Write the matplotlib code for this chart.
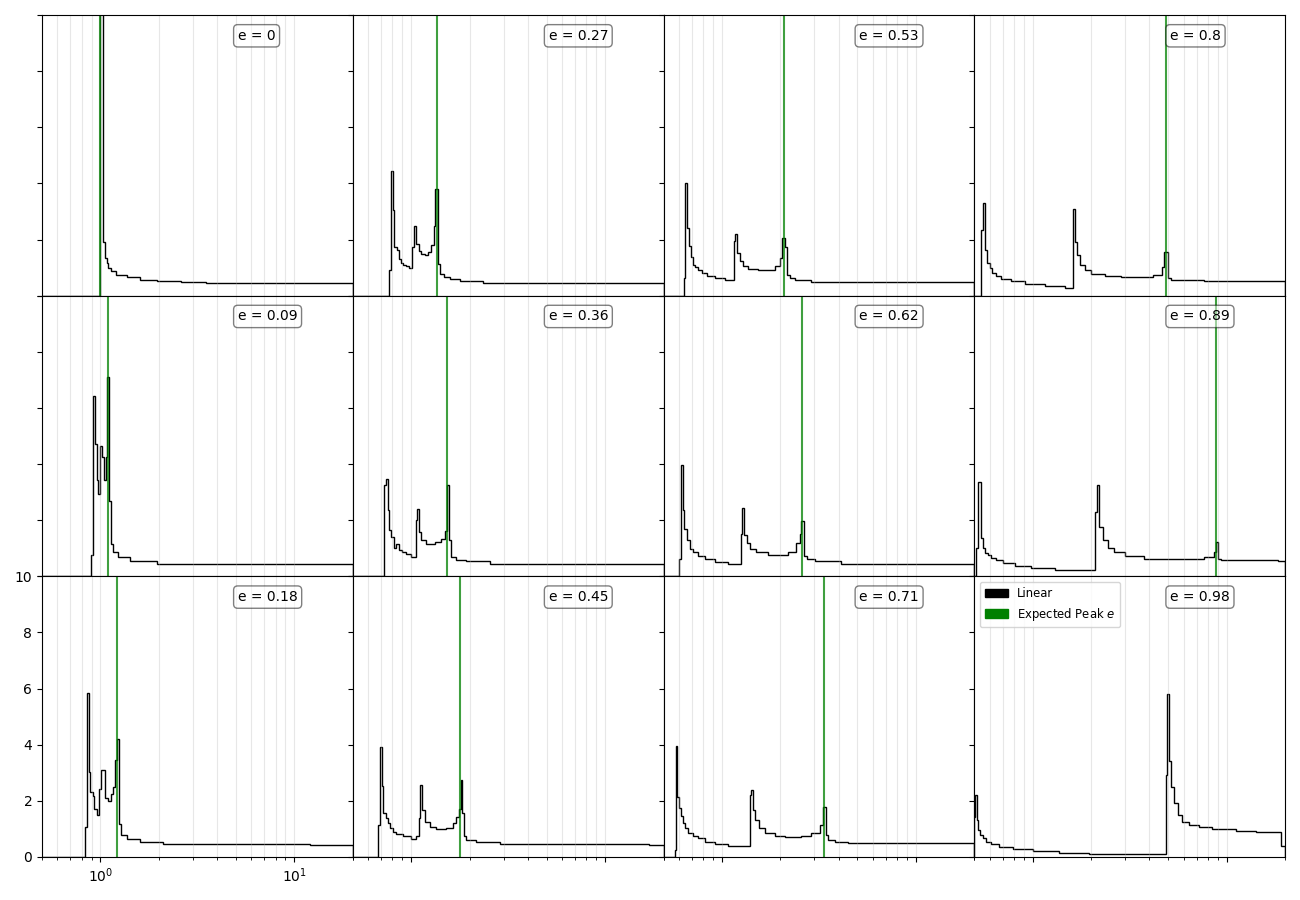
"""Histogramy (schodkowe) dla 12 wartości e, siatka 3x4 ze wspólnymi osiami."""

import matplotlib
matplotlib.use("Agg")
import matplotlib.pyplot as plt
from matplotlib.patches import Patch

# etykiety paneli (kolejność kolumnami)
e_labels = ["0", "0.09", "0.18", "0.27", "0.36", "0.45",
            "0.53", "0.62", "0.71", "0.8", "0.89", "0.98"]
# położenie zielonej linii (oczekiwany pik)
peak_x = [1.0, 1.094, 1.213, 1.354, 1.537, 1.79,
          2.10, 2.60, 3.36, 4.87, 8.83, 50.0]

# krawędzie przedziałów i wysokości
edges_00 = [0.5, 1.0, 1.03, 1.06, 1.08, 1.10, 1.14, 1.21, 1.37, 1.60, 1.95, 2.6, 3.5, 20]
h_00 = [0, 40, 1.93, 1.34, 1.17, 0.98, 0.87, 0.75, 0.65, 0.57, 0.51, 0.48, 0.45]

edges_09 = [0.5, 0.894, 0.912, 0.934, 0.956, 0.975, 1.0, 1.019, 1.043, 1.064, 1.086,
            1.107, 1.129, 1.166, 1.237, 1.42, 1.95, 20]
h_09 = [0, 0.75, 6.44, 4.72, 3.42, 2.95, 4.66, 4.25, 3.42, 4.25, 7.12,
        2.70, 1.16, 0.87, 0.69, 0.55, 0.45]

edges_18 = [0.5, 0.833, 0.850, 0.870, 0.884, 0.912, 0.927, 0.956, 0.987, 1.007, 1.056,
            1.098, 1.134, 1.166, 1.194, 1.213, 1.242, 1.272, 1.366, 1.60, 2.11, 12.0,
            19.3, 20]
h_18 = [0, 1.07, 5.86, 3.03, 2.32, 2.16, 1.72, 1.48, 2.43, 3.09, 2.11,
        2.0, 2.26, 2.49, 3.44, 4.22, 1.19, 0.77, 0.65, 0.53, 0.475, 0.44, 0.42]

edges_27 = [0.5, 0.769, 0.788, 0.804, 0.820, 0.843, 0.867, 0.884, 0.908, 0.938, 0.975,
            1.007, 1.031, 1.064, 1.094, 1.120, 1.175, 1.222, 1.272, 1.307, 1.328,
            1.382, 1.414, 1.471, 1.58, 1.78, 2.35, 20]
h_27 = [0, 0.90, 4.45, 3.05, 1.74, 1.62, 1.32, 1.17, 1.11, 1.05, 1.0,
        1.74, 2.48, 1.83, 1.60, 1.50, 1.44, 1.56, 1.80, 2.48, 3.79,
        1.14, 0.79, 0.67, 0.60, 0.52, 0.45]

edges_36 = [0.5, 0.725, 0.740, 0.757, 0.773, 0.791, 0.813, 0.839, 0.867, 0.901, 0.945,
            1.003, 1.056, 1.077, 1.103, 1.129, 1.198, 1.323, 1.431, 1.489, 1.531,
            1.568, 1.605, 1.71, 1.926, 2.54, 20]
h_36 = [0, 3.27, 3.48, 2.35, 1.64, 1.40, 1.02, 1.16, 0.95, 0.87, 0.81,
        0.69, 1.99, 2.41, 1.58, 1.30, 1.16, 1.22, 1.34, 1.61, 3.24,
        1.28, 0.69, 0.59, 0.53, 0.45]

edges_45 = [0.5, 0.675, 0.692, 0.705, 0.719, 0.740, 0.760, 0.776, 0.807, 0.839, 0.908,
            1.003, 1.064, 1.094, 1.116, 1.143, 1.175, 1.247, 1.349, 1.519, 1.644,
            1.71, 1.759, 1.808, 1.83, 1.873, 1.926, 2.168, 2.86, 16.9, 20]
h_45 = [0, 1.14, 3.92, 2.54, 1.58, 1.38, 1.20, 1.02, 0.90, 0.82,
        0.73, 0.63, 0.73, 1.38, 2.57, 1.68, 1.26, 1.08, 1.0, 1.05,
        1.20, 1.42, 1.70, 2.75, 1.56, 0.73, 0.61, 0.55, 0.46, 0.43]

edges_53 = [0.5, 0.637, 0.649, 0.662, 0.675, 0.689, 0.711, 0.725, 0.754, 0.785, 0.833,
            0.919, 1.035, 1.152, 1.175, 1.203, 1.237, 1.287, 1.366, 1.537, 1.731,
            1.873, 1.988, 2.052, 2.11, 2.16, 2.238, 2.375, 2.894, 20]
h_53 = [0, 0.63, 4.0, 2.42, 1.76, 1.38, 1.11, 1.02, 0.93, 0.81,
        0.71, 0.63, 0.57, 1.94, 2.21, 1.52, 1.23, 1.05, 0.95, 0.90,
        0.93, 1.05, 1.35, 2.06, 1.74, 0.75, 0.63, 0.57, 0.48]

edges_62 = [0.5, 0.600, 0.612, 0.629, 0.641, 0.657, 0.683, 0.711, 0.754, 0.817, 0.919,
            1.077, 1.252, 1.266, 1.297, 1.339, 1.393, 1.507, 1.731, 2.194, 2.42,
            2.52, 2.57, 2.65, 2.73, 3.01, 4.13, 20]
h_62 = [0, 0.63, 3.96, 2.36, 1.67, 1.29, 0.99, 0.87, 0.71, 0.61,
        0.51, 0.43, 1.52, 2.42, 1.46, 1.17, 0.99, 0.87, 0.77, 0.87,
        1.17, 1.52, 1.96, 0.71, 0.60, 0.54, 0.45]

edges_71 = [0.5, 0.572, 0.577, 0.590, 0.602, 0.614, 0.627, 0.644, 0.670, 0.711, 0.754,
            0.817, 0.919, 1.077, 1.393, 1.42, 1.449, 1.489, 1.549, 1.664, 1.873,
            2.11, 2.57, 2.894, 3.20, 3.32, 3.42, 3.53, 3.82, 4.47, 20]
h_71 = [0, 0.25, 3.96, 2.15, 1.74, 1.46, 1.20, 1.02, 0.87, 0.75,
        0.67, 0.55, 0.46, 0.39, 2.21, 2.37, 1.68, 1.30, 1.02, 0.85,
        0.75, 0.70, 0.75, 0.85, 1.14, 1.77, 0.79, 0.61, 0.55, 0.49]

edges_80 = [0.5, 0.543, 0.557, 0.568, 0.581, 0.60, 0.617, 0.649, 0.689, 0.776, 0.908,
            1.152, 1.46, 1.605, 1.644, 1.684, 1.744, 1.851, 2.0, 2.35, 2.86,
            4.16, 4.63, 4.78, 4.97, 5.17, 7.68, 20]
h_80 = [0, 2.33, 3.31, 1.62, 1.15, 0.98, 0.82, 0.71, 0.60, 0.51,
        0.41, 0.33, 0.29, 3.09, 1.92, 1.45, 1.09, 0.92, 0.78, 0.71,
        0.66, 0.72, 1.01, 1.54, 0.62, 0.56, 0.51]

edges_89 = [0.5, 0.512, 0.524, 0.539, 0.552, 0.570, 0.588, 0.612, 0.649, 0.703, 0.807,
            0.983, 1.297, 2.084, 2.151, 2.21, 2.30, 2.44, 2.64, 2.98, 3.77,
            7.68, 8.59, 8.83, 9.04, 9.36, 18.35, 20]
h_89 = [0, 1.02, 3.35, 1.35, 1.02, 0.83, 0.75, 0.67, 0.57, 0.48,
        0.38, 0.31, 0.24, 2.30, 3.25, 1.76, 1.29, 1.02, 0.87, 0.73,
        0.63, 0.69, 0.87, 1.23, 0.63, 0.57, 0.55]

edges_98 = [0.5, 0.504, 0.514, 0.524, 0.537, 0.552, 0.574, 0.609, 0.673, 0.788, 1.0,
            1.37, 1.956, 4.86, 4.91, 5.05, 5.17, 5.36, 5.58, 5.92, 6.41,
            7.21, 8.45, 11.15, 14.13, 19.0, 20]
h_98 = [1.44, 2.2, 1.32, 0.96, 0.78, 0.66, 0.55, 0.45, 0.37, 0.27,
        0.21, 0.15, 0.11, 2.92, 5.82, 3.43, 2.50, 1.91, 1.49, 1.26,
        1.14, 1.06, 0.98, 0.94, 0.90, 0.39]

all_edges = [edges_00, edges_09, edges_18, edges_27, edges_36, edges_45,
             edges_53, edges_62, edges_71, edges_80, edges_89, edges_98]
all_heights = [h_00, h_09, h_18, h_27, h_36, h_45,
               h_53, h_62, h_71, h_80, h_89, h_98]


def main() -> None:
    fig, axs = plt.subplots(3, 4, figsize=(13, 9), sharex=True, sharey=True,
                            gridspec_kw=dict(hspace=0, wspace=0))
    fig.subplots_adjust(left=0.0323, right=0.9885, bottom=0.0478, top=0.9833)

    for i, (lab, px, ed, hh) in enumerate(zip(e_labels, peak_x, all_edges, all_heights)):
        ax = axs[i % 3, i // 3]
        ax.stairs(hh, ed, color="black", lw=1.0)
        ax.axvline(px, color="green", alpha=0.75, lw=1.5)
        ax.set_xscale("log")
        ax.grid(True, which="both", axis="x", alpha=0.3)
        ax.text(0.63, 0.926, f"e = {lab}", transform=ax.transAxes,
                ha="left", va="center", fontsize=10,
                bbox=dict(boxstyle="round", facecolor="white", alpha=0.5))
        if not (i % 3 == 2 and i // 3 == 0):
            ax.tick_params(labelbottom=False, labelleft=False)

    axs[0, 0].set_xlim(0.5, 20)
    axs[0, 0].set_ylim(0, 10)

    handles = [Patch(color="black", label="Linear"),
               Patch(color="green", label="Expected Peak $e$")]
    axs[2, 3].legend(handles=handles, loc="upper left", fontsize="small")

    fig.savefig("out.png", dpi=100)
    plt.close(fig)


if __name__ == "__main__":
    main()
